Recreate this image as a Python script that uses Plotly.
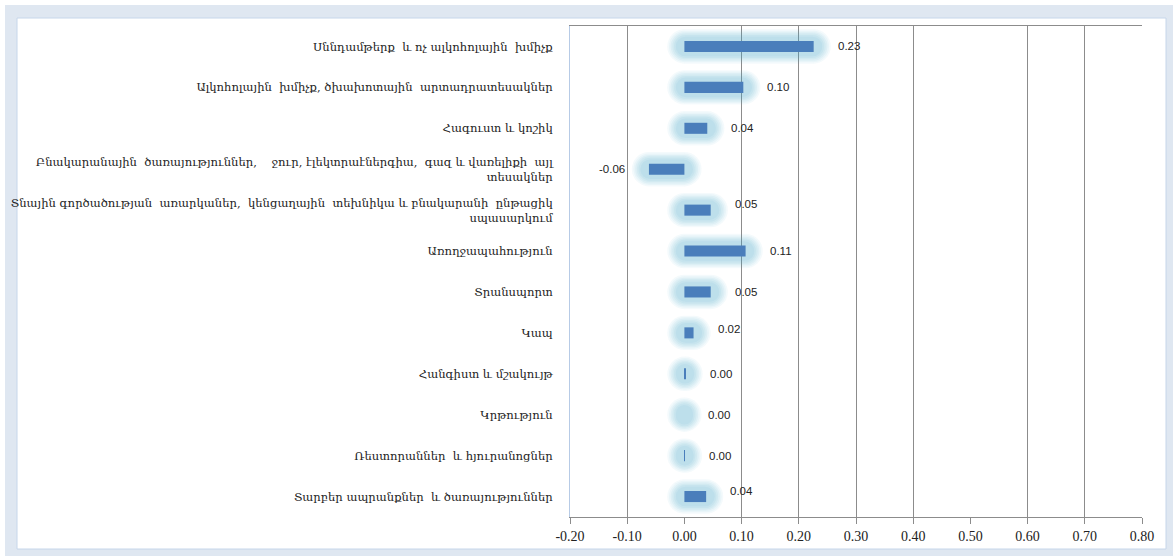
import plotly.graph_objects as go

# ---------------- data ----------------
categories = [
    "Սննդամթերք  և ոչ ալկոհոլային  խմիչք",
    "Ալկոհոլային  խմիչք, ծխախոտային  արտադրատեսակներ",
    "Հագուստ և կոշիկ",
    "Բնակարանային  ծառայություններ,    ջուր, էլեկտրաէներգիա,  գազ և վառելիքի  այլ<br>տեսակներ",
    "Տնային գործածության  առարկաներ,  կենցաղային  տեխնիկա և բնակարանի  ընթացիկ<br>սպասարկում",
    "Առողջապահություն",
    "Տրանսպորտ",
    "Կապ",
    "Հանգիստ և մշակույթ",
    "Կրթություն",
    "Ռեստորաններ  և հյուրանոցներ",
    "Տարբեր ապրանքներ  և ծառայություններ",
]
values = [0.226, 0.103, 0.040, -0.062, 0.046, 0.107, 0.046, 0.016, 0.002, 0.0, 0.001, 0.038]
x_ticks = [-0.2, -0.1, 0.0, 0.1, 0.2, 0.3, 0.4, 0.5, 0.6, 0.7, 0.8]
grid_ticks = [-0.1, 0.1, 0.2, 0.3, 0.4, 0.6, 0.7, 0.8]

# ---------------- style ----------------
W, H = 1175, 557
ML, MR, MT, MB = 570, 33, 26, 40
BAR_COLOR = "#4a7ebb"
GLOW_RGB = "75,172,198"
label_yshift = [0, 0, 0, 0, 6, 0, 0, 4, 0, 0, 0, 6]
glow_layers = [(0.030, 0.84, 0.06), (0.027, 0.77, 0.06), (0.024, 0.70, 0.07),
               (0.021, 0.63, 0.07), (0.018, 0.56, 0.08), (0.015, 0.48, 0.08)]

fig = go.Figure()

# glow layers (soft aqua halo behind bars)
for pad, wid, alpha in glow_layers:
    fig.add_trace(go.Bar(
        y=categories,
        x=[abs(v) + 2 * pad for v in values],
        base=[min(v, 0) - pad for v in values],
        orientation="h",
        width=wid,
        marker=dict(color=f"rgba({GLOW_RGB},{alpha})", cornerradius="50%", line=dict(width=0)),
        hoverinfo="skip",
        showlegend=False,
    ))

# main bars
fig.add_trace(go.Bar(
    y=categories,
    x=values,
    orientation="h",
    width=0.27,
    marker=dict(color=BAR_COLOR, line=dict(width=0)),
    showlegend=False,
))

# invisible trace on overlay axis for custom gridlines
fig.add_trace(go.Scatter(x=[None], y=[None], xaxis="x2", yaxis="y", showlegend=False))

# data labels
for c, v, ys in zip(categories, values, label_yshift):
    pos = v >= 0
    fig.add_annotation(
        x=v, y=c, text=f"{v:.2f}", showarrow=False,
        xanchor="left" if pos else "right",
        xshift=22 if pos else -22, yshift=ys,
        font=dict(family="Liberation Sans, Arial", size=11.5, color="#222222"),
    )

# frame around the whole chart
def px_x(p):
    return (p - ML) / (W - ML - MR)

def px_y(p):
    return 1 - (p - MT) / (H - MT - MB)

fig.add_shape(type="rect", xref="paper", yref="paper",
              x0=px_x(5), x1=px_x(1173), y0=px_y(556), y1=px_y(5),
              fillcolor="#dfe7f1", line=dict(width=0), layer="below")
fig.add_shape(type="rect", xref="paper", yref="paper",
              x0=px_x(17), x1=px_x(1166), y0=px_y(549), y1=px_y(18),
              fillcolor="white", line=dict(color="#c6d6ea", width=1), layer="below")

fig.update_layout(
    width=W, height=H,
    margin=dict(l=ML, r=MR, t=MT, b=MB),
    barmode="overlay",
    paper_bgcolor="white",
    plot_bgcolor="rgba(0,0,0,0)",
    xaxis=dict(
        range=[-0.2, 0.8],
        tickvals=x_ticks,
        ticktext=[f"{t:.2f}" for t in x_ticks],
        showgrid=False,
        zeroline=False,
        showline=True, linecolor="#8c8c8c", linewidth=1, mirror=True,
        ticks="outside", ticklen=6, tickcolor="#8c8c8c",
        tickfont=dict(family="Liberation Serif, Times New Roman", size=14, color="#222222"),
        fixedrange=True,
    ),
    xaxis2=dict(
        range=[-0.2, 0.8],
        overlaying="x",
        tickvals=grid_ticks,
        showticklabels=False,
        showgrid=True, gridcolor="#8c8c8c", gridwidth=1,
        zeroline=False, showline=False, ticks="",
    ),
    yaxis=dict(
        type="category",
        autorange="reversed",
        showgrid=False,
        zeroline=False,
        showline=True, linecolor="#b7cbe6", linewidth=1,
        ticks="",
        ticklabelstandoff=14,
        tickfont=dict(family="DejaVu Serif", size=11.6, color="#222222"),
    ),
    font=dict(family="DejaVu Serif"),
)

fig.write_html("out.html", config={"displayModeBar": False},
               post_script="document.body.style.margin='0';")
